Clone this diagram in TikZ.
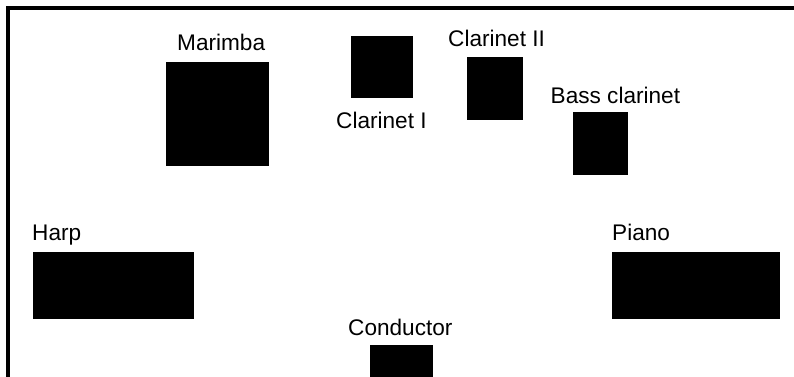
\documentclass[tikz,border=0pt]{standalone}
\usepackage{fontspec}
\setmainfont{Liberation Sans}
\begin{document}
\begin{tikzpicture}[x=1pt,y=-1pt,
  seat/.style={fill=black,draw=none,inner sep=0pt,anchor=north west},
  lbl/.style={inner sep=0pt,anchor=base west,font=\fontsize{22.6}{27}\selectfont}]
\useasboundingbox (0,0) rectangle (794,376);
% stage frame: top and left edges
\coordinate (fbl) at (7.5,380);
\coordinate (ftl) at (7.5,7.5);
\coordinate (ftr) at (800,7.5);
\begin{scope}
\clip (0,0) rectangle (794,376);
\draw[line width=4pt] (fbl) -- (ftl) -- (ftr);
% instrument positions
\node[seat,minimum width=103pt,minimum height=104pt] (marimba) at (166,62) {};
\node[seat,minimum width=62pt,minimum height=62pt] (clarI) at (351,36) {};
\node[seat,minimum width=56pt,minimum height=63pt] (clarII) at (467,56.5) {};
\node[seat,minimum width=55pt,minimum height=63pt] (bassclar) at (572.5,112) {};
\node[seat,minimum width=161pt,minimum height=67pt] (harp) at (32.5,252) {};
\node[seat,minimum width=168pt,minimum height=67pt] (piano) at (611.5,252) {};
\node[seat,minimum width=63pt,minimum height=40pt] (conductor) at (370,345) {};
\end{scope}
% labels
\node[lbl] (lmarimba) at (177,50.5) {Marimba};
\node[lbl] (lclarI) at (336,128.5) {Clarinet I};
\node[lbl] (lclarII) at (448,46) {Clarinet II};
\node[lbl] (lbassclar) at (550.5,103) {Bass clarinet};
\node[lbl] (lharp) at (32,240) {Harp};
\node[lbl] (lpiano) at (612,240) {Piano};
\node[lbl] (lconductor) at (348,335) {Conductor};
\end{tikzpicture}
\end{document}
